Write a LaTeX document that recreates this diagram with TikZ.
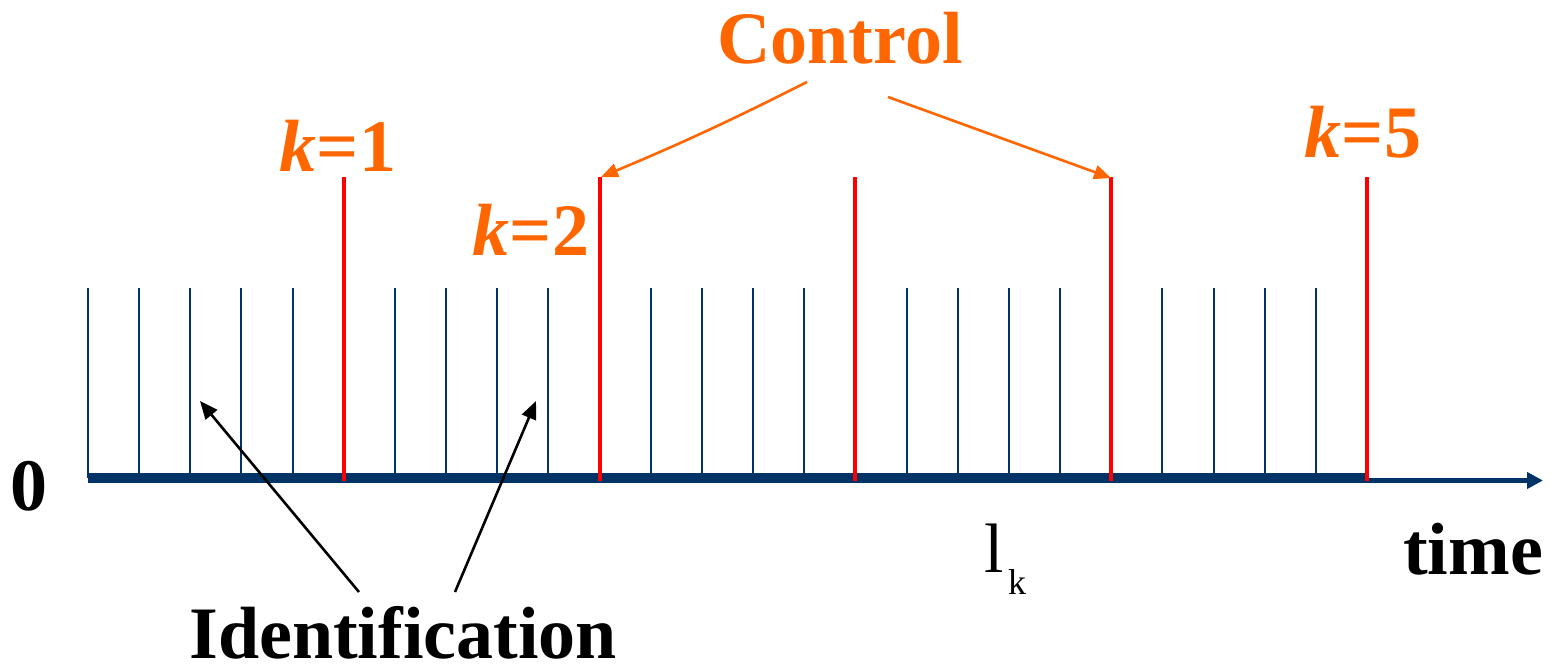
\documentclass[tikz,border=0pt]{standalone}
\usepackage{fontspec}
\setmainfont{Liberation Serif}
\usetikzlibrary{arrows.meta}
\definecolor{axisblue}{RGB}{0,51,102}
\definecolor{ctrlorange}{RGB}{255,102,0}
\definecolor{ctrlred}{RGB}{255,0,0}
\tikzset{
  bigtxt/.style={font=\fontsize{74}{80}\selectfont\bfseries, inner sep=0pt, anchor=base},
  orangetxt/.style={bigtxt, text=ctrlorange},
  bluetick/.style={axisblue, line width=2pt},
  redtick/.style={ctrlred, line width=4pt},
  ctrlarrow/.style={ctrlorange, line width=2.6pt, -{Triangle[length=17pt,width=14pt]}},
  idarrow/.style={black, line width=2.6pt, -{Triangle[length=18pt,width=15pt]}}
}
\begin{document}
\begin{tikzpicture}[x=1pt,y=-1pt]
\useasboundingbox (0,0) rectangle (1563,671);
% axis
\coordinate (axstart) at (88,480.5);
\coordinate (axend) at (1543,480.5);
\draw[axisblue, line width=5pt, -{Triangle[length=16pt,width=16pt]}] (axstart) -- (axend);
\coordinate (thickA) at (88,478);
\coordinate (thickB) at (1367,478);
\draw[axisblue, line width=10pt] (thickA) -- (thickB);
% ticks
\foreach \i in {0,...,25} {
  \pgfmathsetmacro\xx{88+51.16*\i}
  \pgfmathtruncatemacro\md{mod(\i,5)}
  \ifnum\i>0
    \ifnum\md=0
      \draw[redtick] (\xx,177) -- (\xx,481);
    \else
      \draw[bluetick] (\xx,288) -- (\xx,478);
    \fi
  \else
    \draw[bluetick] (\xx,288) -- (\xx,478);
  \fi
}
% labels
\node[orangetxt] (k1) at (338,172) {\textit{k}=1};
\node[orangetxt] (k2) at (531,255) {\textit{k}=2};
\node[orangetxt] (k5) at (1363,158) {\textit{k}=5};
\node[orangetxt] (ctrl) at (840,64) {Control};
\node[bigtxt] (zero) at (29,510) {0};
\node[bigtxt] (time) at (1473,574) {time};
\node[bigtxt] (ident) at (403,658) {Identification};
\node[inner sep=0pt, anchor=base west, font=\fontsize{70}{76}\selectfont] (lsym) at (984,572) {l};
\node[inner sep=0pt, anchor=base west, font=\fontsize{36}{40}\selectfont] (lsub) at (1008,594) {k};
% control arrows
\coordinate (c1s) at (807,82);
\coordinate (c1e) at (601,177);
\coordinate (c2s) at (888,97);
\coordinate (c2e) at (1111,178);
\draw[ctrlarrow] (c1s) to[bend left=2] (c1e);
\draw[ctrlarrow] (c2s) -- (c2e);
% identification arrows
\coordinate (i1s) at (359,592);
\coordinate (i1e) at (200,401);
\coordinate (i2s) at (455,592);
\coordinate (i2e) at (536,401);
\draw[idarrow] (i1s) -- (i1e);
\draw[idarrow] (i2s) -- (i2e);
\end{tikzpicture}
\end{document}
